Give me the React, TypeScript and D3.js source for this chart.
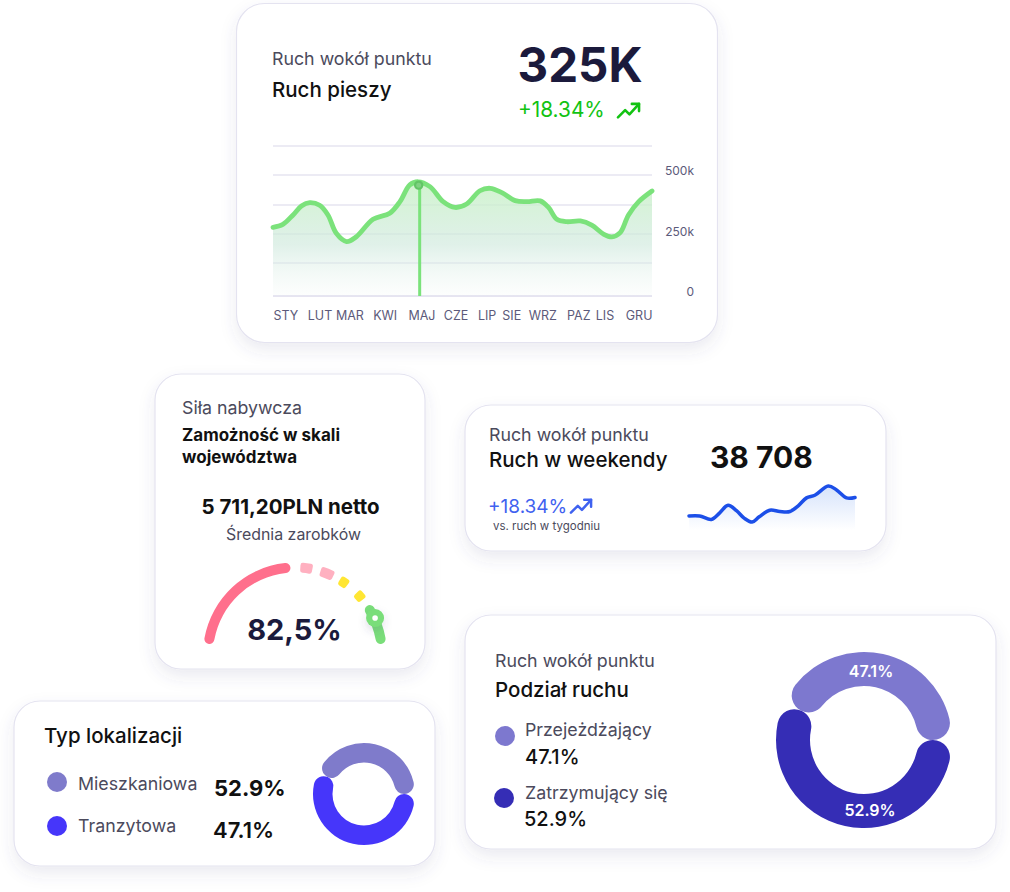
import React from 'react'
import * as d3 from 'd3'

// Ruch pieszy (x = % of plot width, y = thousands)
const monthLabels = ['STY', 'LUT', 'MAR', 'KWI', 'MAJ', 'CZE', 'LIP', 'SIE', 'WRZ', 'PAZ', 'LIS', 'GRU']
const monthPositions = [3.4, 12.4, 20.3, 29.6, 39.3, 48.3, 56.5, 63, 71.2, 80.7, 87.6, 96.6]
const footX = [0, 2.6, 5.3, 7.5, 9.7, 12.3, 14.5, 16.7, 19.4, 22, 26.4, 30.8, 33.5, 36.1, 38.3, 41.4, 44.9, 48, 51.1, 54.6, 57.3, 60.4, 63.9, 67, 70.5, 72.7, 74.9, 77.5, 81.1, 84.1, 87.2, 89.4, 91.6, 93.8, 96.5, 100]
const footValues = [284, 296, 335, 372, 386, 375, 335, 259, 225, 245, 317, 342, 390, 459, 472, 452, 390, 366, 380, 435, 445, 427, 394, 390, 393, 366, 317, 307, 310, 293, 256, 244, 262, 335, 390, 434]
const gridValues = [0, 136, 256, 376, 500, 620]
const yTicks = [0, 250, 500]
const markerX = 38.7
const markerValue = 458

// Ruch w weekendy
const weekendX = [0, 6.4, 13.5, 18.5, 23.5, 28.6, 33.2, 38, 42.3, 48.7, 54.7, 60.8, 65.8, 70.8, 75.8, 83.9, 88.9, 94.9, 100]
const weekendValues = [32, 32, 24, 39, 56, 44, 27, 18, 30, 45, 42, 42, 55, 73, 79, 100, 91, 73, 74]

// Gauge, degrees from the top
const gaugeStarts = [-83, 3.5, 17, 31, 45, 56]
const gaugeEnds = [-3, 11.5, 26, 37, 51, 83]
const gaugeColors = ['#ff6f8c', '#ffb0c0', '#ffb0c0', '#ffe633', '#ffe633', '#7ade7a']
const gaugeCorners = [5, 2.5, 2.5, 2.5, 2.5, 5]
const gaugeKnob = 65.5

// Donuts: arc sweeps as drawn, in degrees
const donutLabels = ['47.1%', '52.9%']
const donutSweeps = [155, 205]
const donutStart = -65

const rad = (deg: number) => (deg * Math.PI) / 180

const cardList = [
  [236.5, 3.5, 481, 339, 28],
  [155, 374, 270, 295, 26],
  [465, 405, 421, 146, 26],
  [465, 615, 531, 234, 26],
  [14, 701, 421, 165, 26],
]

const INK = '#1b1a3c'
const SOFT = '#4b4a5c'
const AXIS = '#5c5a7a'
const FONT = 'Inter, "Noto Sans", sans-serif'

const Label = (p: any) => {
  const { x, y, size = 17.8, weight = 400, fill = SOFT, anchor = 'start', children } = p
  return (
    <text x={x} y={y} fontSize={size} fontWeight={weight} fill={fill} textAnchor={anchor} fontFamily={FONT}>
      {children}
    </text>
  )
}

const TrendArrow = ({ x, y, w, color }: { x: number; y: number; w: number; color: string }) => {
  const s = w / 24
  return (
    <g transform={`translate(${x},${y}) scale(${s})`} fill="none" stroke={color} strokeWidth={2.7} strokeLinecap="round" strokeLinejoin="round">
      <path d="M1 16 L8.5 8.5 L13 13 L23 2" />
      <path d="M15.5 2 L23 2 L23 9.5" />
    </g>
  )
}

const Donut = ({ cx, cy, outer, inner, colors, labels }: any) => {
  const pie = d3.pie<number>().value(d => d).sort(null).startAngle(rad(donutStart)).endAngle(rad(donutStart + 360))
  const arc = d3.arc<d3.PieArcDatum<number>>().innerRadius(inner).outerRadius(outer).cornerRadius((outer - inner) / 2)
  return (
    <g transform={`translate(${cx},${cy})`}>
      {pie(donutSweeps).map((d, i) => (
        <path key={i} d={arc(d) ?? ''} fill={colors[i]} />
      ))}
      {labels
        ? donutLabels.map((t, i) => (
            <text key={t} x={i === 0 ? 7 : 6} y={i === 0 ? -63 : 76} textAnchor="middle" fontSize={16} fontWeight={600} fill="#fff" fontFamily={FONT}>
              {t}
            </text>
          ))
        : null}
    </g>
  )
}

export default function App() {
  // main area chart
  const x = d3.scaleLinear().domain([0, 100]).range([273, 652])
  const y = d3.scaleLinear().domain([0, 500]).range([296, 175])
  const footPoints = footX.map((u, i) => [u, footValues[i]] as [number, number])
  const line = d3.line<[number, number]>().x(d => x(d[0])).y(d => y(d[1])).curve(d3.curveCatmullRom.alpha(0.5))
  const area = d3.area<[number, number]>().x(d => x(d[0])).y0(y(0)).y1(d => y(d[1])).curve(d3.curveCatmullRom.alpha(0.5))

  // weekend sparkline
  const sx = d3.scaleLinear().domain([0, 100]).range([689, 855])
  const sy = d3.scaleLinear().domain([0, 100]).range([530, 486])
  const weekendPoints = weekendX.map((u, i) => [u, weekendValues[i]] as [number, number])
  const sLine = d3.line<[number, number]>().x(d => sx(d[0])).y(d => sy(d[1])).curve(d3.curveCatmullRom.alpha(0.5))
  const sArea = d3.area<[number, number]>().x(d => sx(d[0])).y0(sy(0)).y1(d => sy(d[1])).curve(d3.curveCatmullRom.alpha(0.5))

  // gauge
  const gaugeArc = d3.arc<any>().innerRadius(82).outerRadius(92)
  const gcx = 295
  const gcy = 654.5
  const knobX = gcx + 88 * Math.sin(rad(gaugeKnob))
  const knobY = gcy - 88 * Math.cos(rad(gaugeKnob))

  return (
    <svg width={1010} height={892} style={{ position: 'absolute', left: 0, top: 0, display: 'block', background: '#fff' }}>
      <defs>
        <filter id="cardShadow" x="-10%" y="-10%" width="120%" height="130%">
          <feDropShadow dx={0} dy={7} stdDeviation={8} floodColor="#4a4680" floodOpacity={0.11} />
        </filter>
        <filter id="knobShadow" x="-100%" y="-100%" width="300%" height="300%">
          <feDropShadow dx={0} dy={4} stdDeviation={4} floodColor="#4a4680" floodOpacity={0.18} />
        </filter>
        <linearGradient id="footFill" x1="0" x2="0" y1="0" y2="1">
          <stop offset="0%" stopColor="#c9f2c6" stopOpacity={0.85} />
          <stop offset="55%" stopColor="#cfe9dd" stopOpacity={0.65} />
          <stop offset="100%" stopColor="#e8f3ee" stopOpacity={0.1} />
        </linearGradient>
        <linearGradient id="weekendFill" x1="0" x2="0" y1="0" y2="1">
          <stop offset="0%" stopColor="#d6e3fb" />
          <stop offset="100%" stopColor="#ffffff" />
        </linearGradient>
      </defs>

      {cardList.map((c, i) => (
        <rect key={i} x={c[0]} y={c[1]} width={c[2]} height={c[3]} rx={c[4]} fill="#fff" stroke="#e4e3f0" strokeWidth={1.2} filter="url(#cardShadow)" />
      ))}

      {/* Ruch pieszy */}
      <Label x={272} y={65}>Ruch wokół punktu</Label>
      <Label x={272} y={97} size={20.5} weight={500} fill="#111">Ruch pieszy</Label>
      <Label x={517.5} y={82} size={47.5} weight={700} fill={INK}>325K</Label>
      <Label x={518} y={117} size={20.8} fill="#12c312">+18.34%</Label>
      <TrendArrow x={617} y={102} w={23} color="#12c312" />

      {gridValues.map(v => (
        <line key={v} x1={273} x2={652} y1={y(v)} y2={y(v)} stroke="#e6e4f1" strokeWidth={v === 0 ? 2 : 1.5} />
      ))}
      <path d={area(footPoints) ?? ''} fill="url(#footFill)" />
      <line x1={x(markerX)} x2={x(markerX)} y1={y(markerValue)} y2={y(0)} stroke="#7be27b" strokeWidth={3} />
      <path d={line(footPoints) ?? ''} fill="none" stroke="#7be27b" strokeWidth={4.8} strokeLinecap="round" />
      <circle cx={x(markerX) - 1} cy={y(markerValue)} r={3.6} fill="#7fd282" stroke="#62c566" strokeWidth={2.2} />
      {yTicks.map(t => (
        <Label key={t} x={694} y={y(t) + 0} size={12} fill={AXIS} anchor="end">
          {t === 0 ? '0' : `${t}k`}
        </Label>
      ))}
      {monthLabels.map((m, i) => (
        <Label key={m} x={x(monthPositions[i])} y={320} size={12.5} fill={AXIS} anchor="middle">{m}</Label>
      ))}

      {/* Siła nabywcza */}
      <Label x={182} y={414}>Siła nabywcza</Label>
      <Label x={182} y={441} size={17} weight={700} fill="#111">Zamożność w skali</Label>
      <Label x={182} y={463} size={17} weight={700} fill="#111">województwa</Label>
      <Label x={290.5} y={514} size={20.5} weight={700} fill="#111" anchor="middle">5 711,20PLN netto</Label>
      <Label x={293.5} y={540} size={15.9} anchor="middle">Średnia zarobków</Label>
      <g transform={`translate(${gcx},${gcy})`}>
        {gaugeStarts.map((s, i) => (
          <path key={i} d={gaugeArc.cornerRadius(gaugeCorners[i])({ startAngle: rad(s), endAngle: rad(gaugeEnds[i]) }) ?? ''} fill={gaugeColors[i]} />
        ))}
      </g>
      <circle cx={knobX} cy={knobY} r={9} fill="#7ade7a" filter="url(#knobShadow)" />
      <circle cx={knobX} cy={knobY} r={2.8} fill="#fff" />
      <Label x={294.5} y={640} size={29} weight={700} fill={INK} anchor="middle">82,5%</Label>

      {/* Ruch w weekendy */}
      <Label x={489} y={441}>Ruch wokół punktu</Label>
      <Label x={489} y={467} size={20.5} weight={500} fill="#111">Ruch w weekendy</Label>
      <Label x={710} y={468} size={30} weight={700} fill="#111">38 708</Label>
      <Label x={488} y={513} size={19} fill="#3f62f0">+18.34%</Label>
      <TrendArrow x={570} y={498} w={22} color="#3f62f0" />
      <Label x={493} y={530} size={11.5}>vs. ruch w tygodniu</Label>
      <path d={sArea(weekendPoints) ?? ''} fill="url(#weekendFill)" />
      <path d={sLine(weekendPoints) ?? ''} fill="none" stroke="#1c4fe8" strokeWidth={3.5} strokeLinecap="round" />

      {/* Podział ruchu */}
      <Label x={495} y={667}>Ruch wokół punktu</Label>
      <Label x={495} y={697} size={20.5} weight={500} fill="#111">Podział ruchu</Label>
      <circle cx={505} cy={736} r={10} fill="#7d78cf" />
      <Label x={525} y={736}>Przejeżdżający</Label>
      <Label x={525} y={764} size={20} weight={500} fill="#111">47.1%</Label>
      <circle cx={504} cy={798} r={10} fill="#352db5" />
      <Label x={525} y={799}>Zatrzymujący się</Label>
      <Label x={524} y={826} size={20} weight={500} fill="#111">52.9%</Label>
      <Donut cx={864} cy={740} outer={88} inner={54} colors={['#7d78cf', '#352db5']} labels />

      {/* Typ lokalizacji */}
      <Label x={44} y={743} size={20.5} weight={500} fill="#111">Typ lokalizacji</Label>
      <circle cx={57} cy={782} r={10} fill="#7f7bcb" />
      <Label x={78} y={790}>Mieszkaniowa</Label>
      <Label x={214} y={796} size={22} weight={700} fill="#111">52.9%</Label>
      <circle cx={57} cy={826} r={10} fill="#4636fa" />
      <Label x={78} y={832}>Tranzytowa</Label>
      <Label x={213} y={838} size={22} weight={600} fill="#111">47.1%</Label>
      <Donut cx={364} cy={794} outer={51} inner={31.5} colors={['#7f7bcb', '#4636fa']} />
    </svg>
  )
}
